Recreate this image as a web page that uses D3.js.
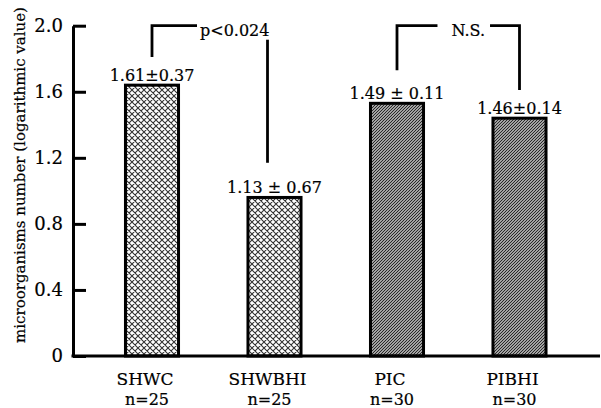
<!DOCTYPE html>
<html>
<head>
<meta charset="utf-8">
<script src="https://cdn.jsdelivr.net/npm/d3@7"></script>
<style>
  body { margin: 0; background: #fff; }
  text { font-family: "DejaVu Serif", serif; fill: #000; stroke: #000; stroke-width: 0.2px; }
</style>
</head>
<body>
<div id="chart"></div>
<script>
// values (bar heights), plus the printed labels
var groups = ["SHWC", "SHWBHI", "PIC", "PIBHI"];
var sizes = ["n=25", "n=25", "n=30", "n=30"];
var barValues = [1.64, 0.96, 1.53, 1.44];
var valueLabels = ["1.61\u00b10.37", "1.13 \u00b1 0.67", "1.49 \u00b1 0.11", "1.46\u00b10.14"];
var fills = ["cross", "cross", "diag", "diag"];
var yTicks = [0, 0.4, 0.8, 1.2, 1.6, 2.0];
var brackets = [
    {from: "SHWC", to: "SHWBHI", text: "p<0.024", leftEnd: 1.81, rightEnd: 1.17},
    {from: "PIC", to: "PIBHI", text: "N.S.", leftEnd: 1.73, rightEnd: 1.61}
];

var width = 601, height = 408;
var axisX = 73, axisRight = 600;

var svg = d3.select("#chart").append("svg")
    .attr("width", width)
    .attr("height", height);

var defs = svg.append("defs");

// crosshatch for the SHW bars
var cross = defs.append("pattern")
    .attr("id", "cross")
    .attr("patternUnits", "userSpaceOnUse")
    .attr("width", 6)
    .attr("height", 6);
cross.append("rect").attr("width", 6).attr("height", 6).attr("fill", "#fff");
cross.append("path")
    .attr("d", "M0,0L6,6M6,0L0,6M-1,5L1,7M5,-1L7,1M-1,1L1,-1M5,7L7,5")
    .attr("stroke", "#333")
    .attr("stroke-width", 1.1);

// dense diagonal lines for the PI bars
var diag = defs.append("pattern")
    .attr("id", "diag")
    .attr("patternUnits", "userSpaceOnUse")
    .attr("width", 3)
    .attr("height", 3);
diag.append("rect").attr("width", 3).attr("height", 3).attr("fill", "#ddd");
diag.append("path")
    .attr("d", "M0,3L3,0M-1,1L1,-1M2,4L4,2")
    .attr("stroke", "#222")
    .attr("stroke-width", 1.2);

var x = d3.scaleBand()
    .domain(groups)
    .range([90.75, 580.75])
    .paddingInner(0.567)
    .paddingOuter(0.2835);

var y = d3.scaleLinear()
    .domain([0, 2.0])
    .range([356, 25.7]);

function cx(g) { return x(g) + x.bandwidth() / 2; }

// bars
svg.selectAll("rect.bar")
    .data(groups)
    .enter()
    .append("rect")
    .attr("class", "bar")
    .attr("x", function(d) { return x(d); })
    .attr("y", function(d, i) { return y(barValues[i]); })
    .attr("width", x.bandwidth())
    .attr("height", function(d, i) { return y(0) - y(barValues[i]); })
    .attr("fill", function(d, i) { return "url(#" + fills[i] + ")"; })
    .attr("stroke", "#000")
    .attr("stroke-width", 3);

// value labels
svg.selectAll("text.val")
    .data(groups)
    .enter()
    .append("text")
    .attr("class", "val")
    .attr("x", function(d) { return cx(d); })
    .attr("y", function(d, i) { return y(barValues[i]) - 4; })
    .attr("text-anchor", "middle")
    .style("font-size", "16px")
    .text(function(d, i) { return valueLabels[i]; });

// y axis, ticks pointing inward
var yAxis = d3.axisLeft(y)
    .tickValues(yTicks)
    .tickSizeInner(-13)
    .tickSizeOuter(0)
    .tickPadding(10)
    .tickFormat(function(d) { return d === 0 ? "0" : d3.format(".1f")(d); });

var gy = svg.append("g")
    .attr("transform", "translate(" + axisX + ",0)")
    .call(yAxis);
gy.select(".domain").attr("stroke-width", 3).attr("stroke", "#000");
gy.selectAll(".tick line").attr("stroke-width", 3).attr("stroke", "#000");
gy.selectAll(".tick text")
    .style("font-family", "DejaVu Serif, serif")
    .style("font-size", "18px")
    .attr("fill", "#000");

// x axis line
svg.append("line")
    .attr("x1", axisX - 1.5)
    .attr("x2", axisRight)
    .attr("y1", y(0))
    .attr("y2", y(0))
    .attr("stroke", "#000")
    .attr("stroke-width", 3);

// category labels and group sizes
svg.selectAll("text.cat")
    .data(groups)
    .enter()
    .append("text")
    .attr("class", "cat")
    .attr("text-anchor", "middle")
    .attr("x", function(d) { return cx(d) - 7; })
    .attr("y", 385)
    .style("font-size", "17px")
    .text(function(d) { return d; });

svg.selectAll("text.size")
    .data(groups)
    .enter()
    .append("text")
    .attr("class", "size")
    .attr("text-anchor", "middle")
    .attr("x", function(d) { return cx(d) - 5; })
    .attr("y", 405)
    .style("font-size", "16px")
    .text(function(d, i) { return sizes[i]; });

// y axis title
svg.append("text")
    .attr("transform", "translate(25,175) rotate(-90)")
    .attr("text-anchor", "middle")
    .style("font-size", "15px")
    .text("microorganisms number (logarithmic value)");

// significance brackets
var topY = y(2.0);
brackets.forEach(function(b, k) {
    var x1 = cx(b.from), x2 = cx(b.to);
    var label = svg.append("text")
        .style("font-size", "16px")
        .attr("y", topY + 10);
    label.text(b.text);
    var tw = label.node().getComputedTextLength();
    var g = svg.append("g")
        .attr("fill", "none")
        .attr("stroke", "#000")
        .attr("stroke-width", 2.8);
    if (k === 0) {
        // text sits to the right of the short horizontal, long drop on the right
        var tx = x1 + 48;
        label.attr("x", tx);
        g.append("path").attr("d", "M" + x1 + "," + y(b.leftEnd) + "V" + topY + "H" + (tx - 3));
        g.append("path").attr("d", "M" + (x2 - 7) + "," + (topY + 14) + "V" + y(b.rightEnd));
    } else {
        var mid = (x1 + x2) / 2 + 10;
        label.attr("x", mid).attr("text-anchor", "middle");
        g.append("path").attr("d", "M" + x1 + "," + y(b.leftEnd) + "V" + topY + "H" + (mid - tw / 2 - 14));
        g.append("path").attr("d", "M" + (mid + tw / 2 + 5) + "," + topY + "H" + x2 + "V" + y(b.rightEnd));
    }
});
</script>
</body>
</html>
